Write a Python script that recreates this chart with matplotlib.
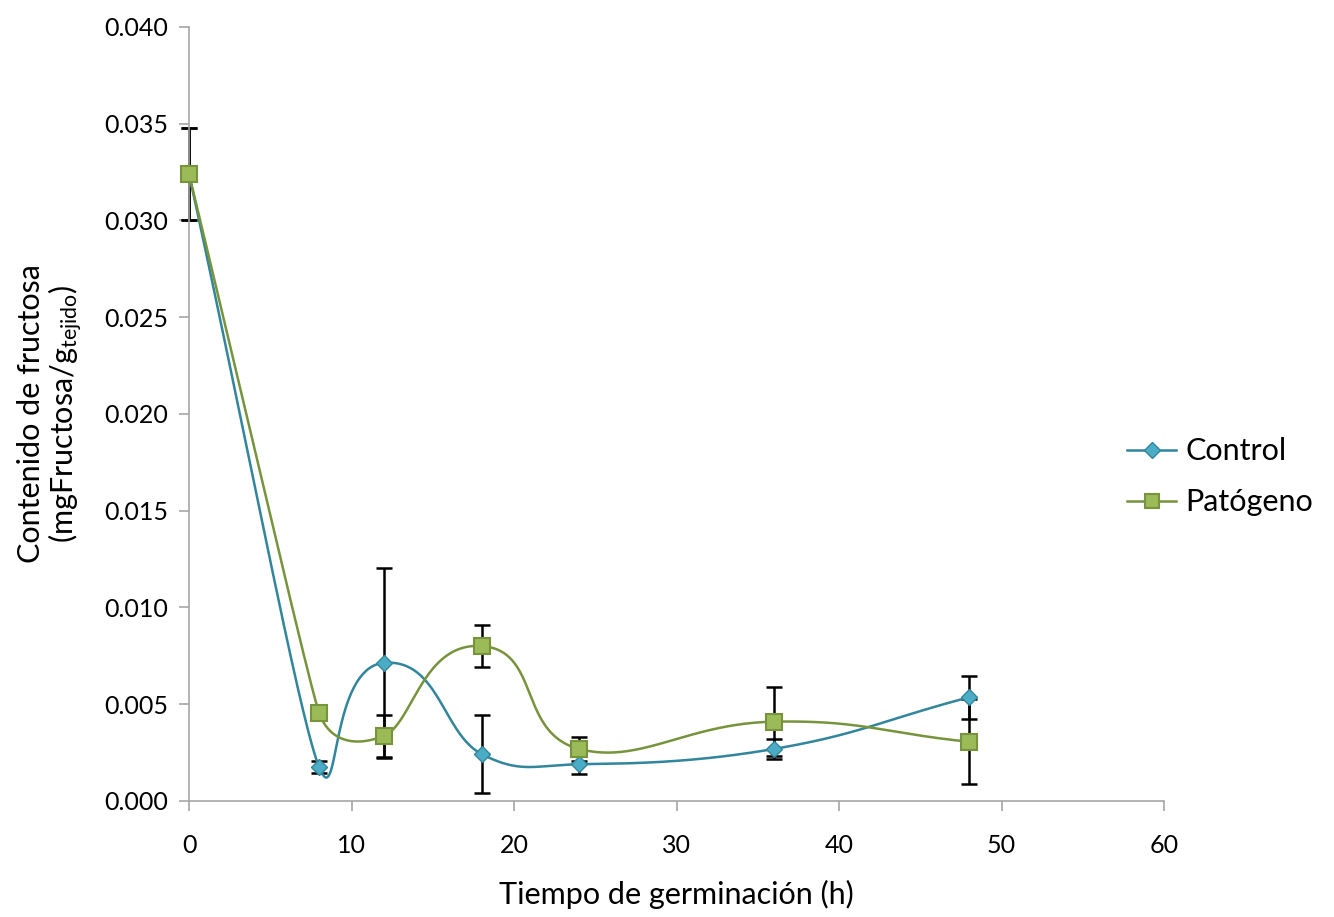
import matplotlib
matplotlib.use("Agg")
import matplotlib.pyplot as plt
import numpy as np

plt.rcParams['font.family'] = ['Lato', 'DejaVu Sans']
plt.rcParams['mathtext.fontset'] = 'custom'
plt.rcParams['mathtext.rm'] = 'Lato'
plt.rcParams['mathtext.it'] = 'Lato'

hours = [0, 8, 12, 18, 24, 36, 48]
control = [0.0324, 0.00176, 0.00714, 0.00243, 0.0019, 0.00269, 0.00536]
control_err = [0.0024, 0.0003, 0.0049, 0.0020, 0.0005, 0.0005, 0.0011]
patogeno = [0.0324, 0.00457, 0.00337, 0.00801, 0.00269, 0.0041, 0.00306]
patogeno_err = [0.0024, 0.0002, 0.0011, 0.0011, 0.0006, 0.0018, 0.0022]


def smooth(ax, x, y, k=0.45, n=80):
    # smoothed line like a spreadsheet one: bezier handles along the neighbour
    # direction, length limited by the shorter adjacent segment (in pixels)
    P = ax.transData.transform(np.column_stack([x, y]))
    m = len(P)
    handles = []
    for i in range(m):
        a = P[max(i - 1, 0)]
        b = P[min(i + 1, m - 1)]
        T = b - a
        T = T / np.linalg.norm(T)
        segs = []
        if i > 0:
            segs.append(np.linalg.norm(P[i] - P[i - 1]))
        if i < m - 1:
            segs.append(np.linalg.norm(P[i + 1] - P[i]))
        handles.append(T * k * min(segs))
    t = np.linspace(0, 1, n)[:, None]
    out = []
    for i in range(m - 1):
        p0, p1 = P[i], P[i + 1]
        c1 = p0 + handles[i]
        c2 = p1 - handles[i + 1]
        out.append((1 - t) ** 3 * p0 + 3 * (1 - t) ** 2 * t * c1
                   + 3 * (1 - t) * t ** 2 * c2 + t ** 3 * p1)
    out = ax.transData.inverted().transform(np.vstack(out))
    return out[:, 0], out[:, 1]


fig = plt.figure(figsize=(13.34, 9.17), dpi=100)
ax = fig.add_axes([0.1417, 0.1265, 0.7309, 0.8441])
ax.set_xlim(0, 60)
ax.set_ylim(0, 0.040)

c_line, c_face = '#31859C', '#4BACC6'
p_line, p_face = '#77933C', '#9BBB59'

for vals, errs in [(control, control_err), (patogeno, patogeno_err)]:
    eb = ax.errorbar(hours, vals, yerr=errs, fmt='none', ecolor='black',
                     elinewidth=1.8, capsize=5.5, capthick=1.8, zorder=2)
    for art in list(eb.lines[1]) + list(eb.lines[2]):
        art.set_clip_on(False)

sx, sy = smooth(ax, hours, control)
ax.plot(sx, sy, color=c_line, lw=1.8, zorder=3, clip_on=False)
sx, sy = smooth(ax, hours, patogeno)
ax.plot(sx, sy, color=p_line, lw=1.8, zorder=3, clip_on=False)

ax.plot(hours, control, 'D', ms=8, mfc=c_face, mec=c_line, mew=1, zorder=4, clip_on=False)
ax.plot(hours, patogeno, 's', ms=11, mfc=p_face, mec=p_line, mew=1.5, zorder=5, clip_on=False)

h1, = ax.plot([], [], '-D', color=c_line, ms=8, mfc=c_face, mec=c_line, lw=1.8, label='Control')
h2, = ax.plot([], [], '-s', color=p_line, ms=10, mfc=p_face, mec=p_line, mew=1.5, lw=1.8, label='Patógeno')

ax.set_xticks(np.arange(0, 61, 10))
ax.set_yticks(np.arange(0, 0.0401, 0.005))
ax.set_yticklabels([f'{v:.3f}' for v in np.arange(0, 0.0401, 0.005)])

for s in ['top', 'right']:
    ax.spines[s].set_visible(False)
for s in ['left', 'bottom']:
    ax.spines[s].set_color('#A6A6A6')
    ax.spines[s].set_linewidth(1.2)
ax.tick_params(axis='both', direction='out', length=7, width=1.2, color='#A6A6A6',
               labelsize=18, labelcolor='black')
ax.tick_params(axis='x', pad=17)
ax.tick_params(axis='y', pad=8)

ax.set_xlabel('Tiempo de germinación (h)', fontsize=22, labelpad=16)
ax.set_ylabel('Contenido de fructosa\n(mgFructosa/g$_{\\mathrm{tejido}}$)', fontsize=22,
              labelpad=14, linespacing=1.05)

fig.legend(handles=[h1, h2], loc='center left', bbox_to_anchor=(0.845, 0.48),
           frameon=False, fontsize=22, handlelength=1.6, handletextpad=0.3,
           labelspacing=0.75, borderaxespad=0, borderpad=0)

fig.savefig('out.png', dpi=100)
